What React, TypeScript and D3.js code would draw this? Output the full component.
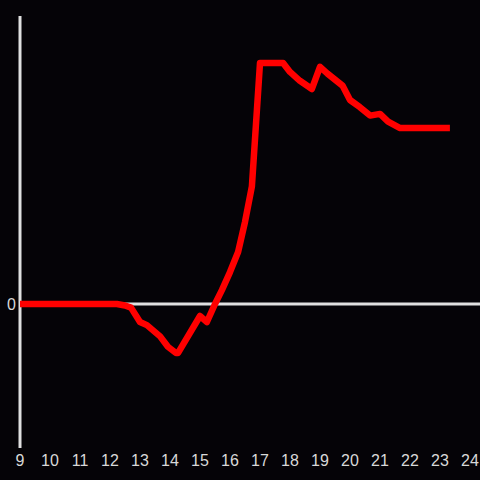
import React, { useEffect } from "react";
import * as d3 from "d3";

const hours: number[] = [9, 12.23, 12.5, 12.7, 13.0, 13.23, 13.67, 13.93, 14.2, 14.27, 15.0, 15.23, 15.5, 15.73, 16.0, 16.27, 16.5, 16.73, 17.0, 17.77, 18.0, 18.33, 18.73, 19.0, 19.25, 19.75, 20.0, 20.33, 20.67, 21.0, 21.27, 21.67, 23.33];
const values: number[] = [0, 0, -0.06, -0.15, -0.75, -0.88, -1.35, -1.78, -2.04, -2.04, -0.5, -0.75, 0, 0.58, 1.33, 2.17, 3.42, 4.9, 10.04, 10.04, 9.67, 9.3, 8.96, 9.88, 9.6, 9.1, 8.5, 8.2, 7.85, 7.92, 7.6, 7.33, 7.33];
const xTicks: number[] = [9, 10, 11, 12, 13, 14, 15, 16, 17, 18, 19, 20, 21, 22, 23, 24];
const yTicks: number[] = [0];

export default function App() {
  useEffect(() => {
    document.body.style.margin = "0";
    document.body.style.background = "#050307";
  }, []);
  const W = 480, H = 480;
  const x = d3.scaleLinear().domain([9, 24]).range([20, 470]);
  const y = d3.scaleLinear().domain([-6, 12]).range([448, 16]);
  const pts: [number, number][] = hours.map((h, i) => [h, values[i]]);
  const line = d3.line<[number, number]>().x(d => x(d[0])).y(d => y(d[1]));
  const axisColor = "#e0e0e0";
  const font = "'Liberation Sans', Arial, sans-serif";
  return (
    <svg width={W} height={H} style={{ display: "block", background: "#050307" }}>
      <rect x={0} y={0} width={W} height={H} fill="#050307" />
      <line x1={x(9)} x2={W} y1={y(0)} y2={y(0)} stroke={axisColor} strokeWidth={3} />
      <line x1={x(9)} x2={x(9)} y1={y(12)} y2={y(-6)} stroke={axisColor} strokeWidth={3} />
      {xTicks.map(t => (
        <text key={t} x={x(t)} y={466} textAnchor="middle" fill="#d8d8d8" fontSize={16} fontFamily={font}>{t}</text>
      ))}
      {yTicks.map(t => (
        <text key={t} x={16} y={y(t) + 6} textAnchor="end" fill="#d8d8d8" fontSize={16} fontFamily={font}>{t}</text>
      ))}
      <path d={line(pts) || ""} fill="none" stroke="#ff0000" strokeWidth={6.5} strokeLinejoin="round" />
    </svg>
  );
}
